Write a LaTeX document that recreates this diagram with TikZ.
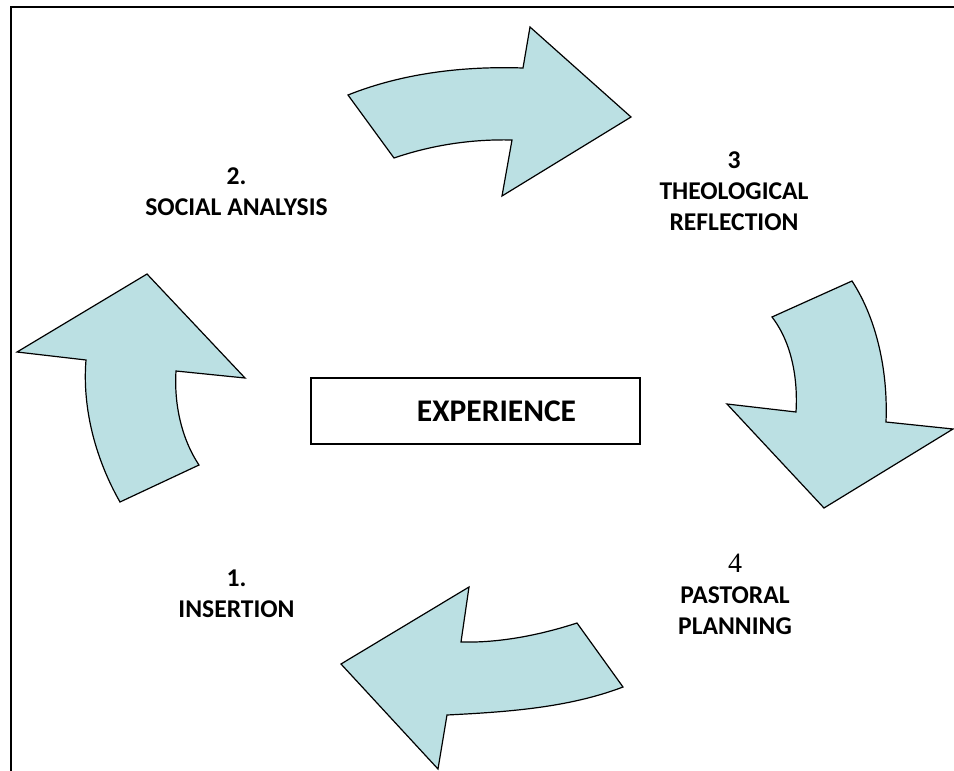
\documentclass[tikz,border=0pt]{standalone}
\usepackage{fontspec}
\setmainfont{Carlito}
\newfontfamily\digitfont{Liberation Serif}
\usepackage{xcolor}
\usepackage{tikz}
\usetikzlibrary{
    positioning
}

\definecolor{arrowblue}{RGB}{187,224,227}

\begin{document}
\begin{tikzpicture}[
    x=1pt, y=-1pt,
    stagearrow/.style={
        draw=black,
        line width=1.2pt,
        fill=arrowblue,
        line join=miter
    },
    frame/.style={draw=black, line width=2pt},
    steplabel/.style={
        font=\fontsize{25.6}{31}\selectfont\bfseries,
        align=center,
        inner sep=0pt
    },
    expbox/.style={
        rectangle,
        draw,
        line width=1.5pt,
        minimum width=329pt,
        minimum height=66pt,
        inner sep=0pt,
        font=\fontsize{31.5}{36}\selectfont\bfseries
    }
]
\useasboundingbox (0,0) rectangle (954,771);

% ============================================================
% MARCO
% ============================================================
\begin{scope}
    \clip (0,0) rectangle (954,771);
    \draw[frame] (11,7) rectangle (980,800);
\end{scope}

% ============================================================
% FLECHAS DEL CICLO
% ============================================================

% Análisis -> reflexión (arriba)
\draw[stagearrow] (348,95) -- (394,158)
    .. controls (432,145) and (472,139) .. (512,140)
    -- (502,196) -- (631,117) -- (530,27) -- (523,68)
    .. controls (464,66) and (403,73) .. (348,95) -- cycle;

% Reflexión -> planificación (derecha)
\draw[stagearrow] (852,281) -- (772,317)
    .. controls (792,343) and (798,379) .. (796,412)
    -- (727,404) -- (824,508) -- (953,429) -- (886,422)
    .. controls (888,374) and (878,321) .. (852,281) -- cycle;

% Planificación -> inserción (abajo)
\draw[stagearrow] (577,623) -- (623,687)
    .. controls (568,708) and (506,712) .. (447,715)
    -- (438,769) -- (341,664) -- (469,587) -- (461,642)
    .. controls (500,643) and (540,635) .. (577,623) -- cycle;

% Inserción -> análisis (izquierda)
\draw[stagearrow] (147,274) -- (245,378) -- (176,371)
    .. controls (174,403) and (181,438) .. (199,465)
    -- (120,502)
    .. controls (96,460) and (82,409) .. (86,360)
    -- (17,352) -- cycle;

% ============================================================
% ETAPAS
% ============================================================
\node[steplabel] (analysis) at (236.5,192) {2.\\SOCIAL ANALYSIS};
\node[steplabel] (reflection) at (734,191.5) {3\\THEOLOGICAL\\REFLECTION};
\node[steplabel] (planning) at (735,594)
    {{\digitfont\mdseries\fontsize{28}{31}\selectfont 4}\\PASTORAL\\PLANNING};
\node[steplabel] (insertion) at (236.5,594) {1.\\INSERTION};

% Centro
\node[expbox] (experience) at (475.5,411) {\hspace*{42pt}EXPERIENCE};

\end{tikzpicture}
\end{document}
